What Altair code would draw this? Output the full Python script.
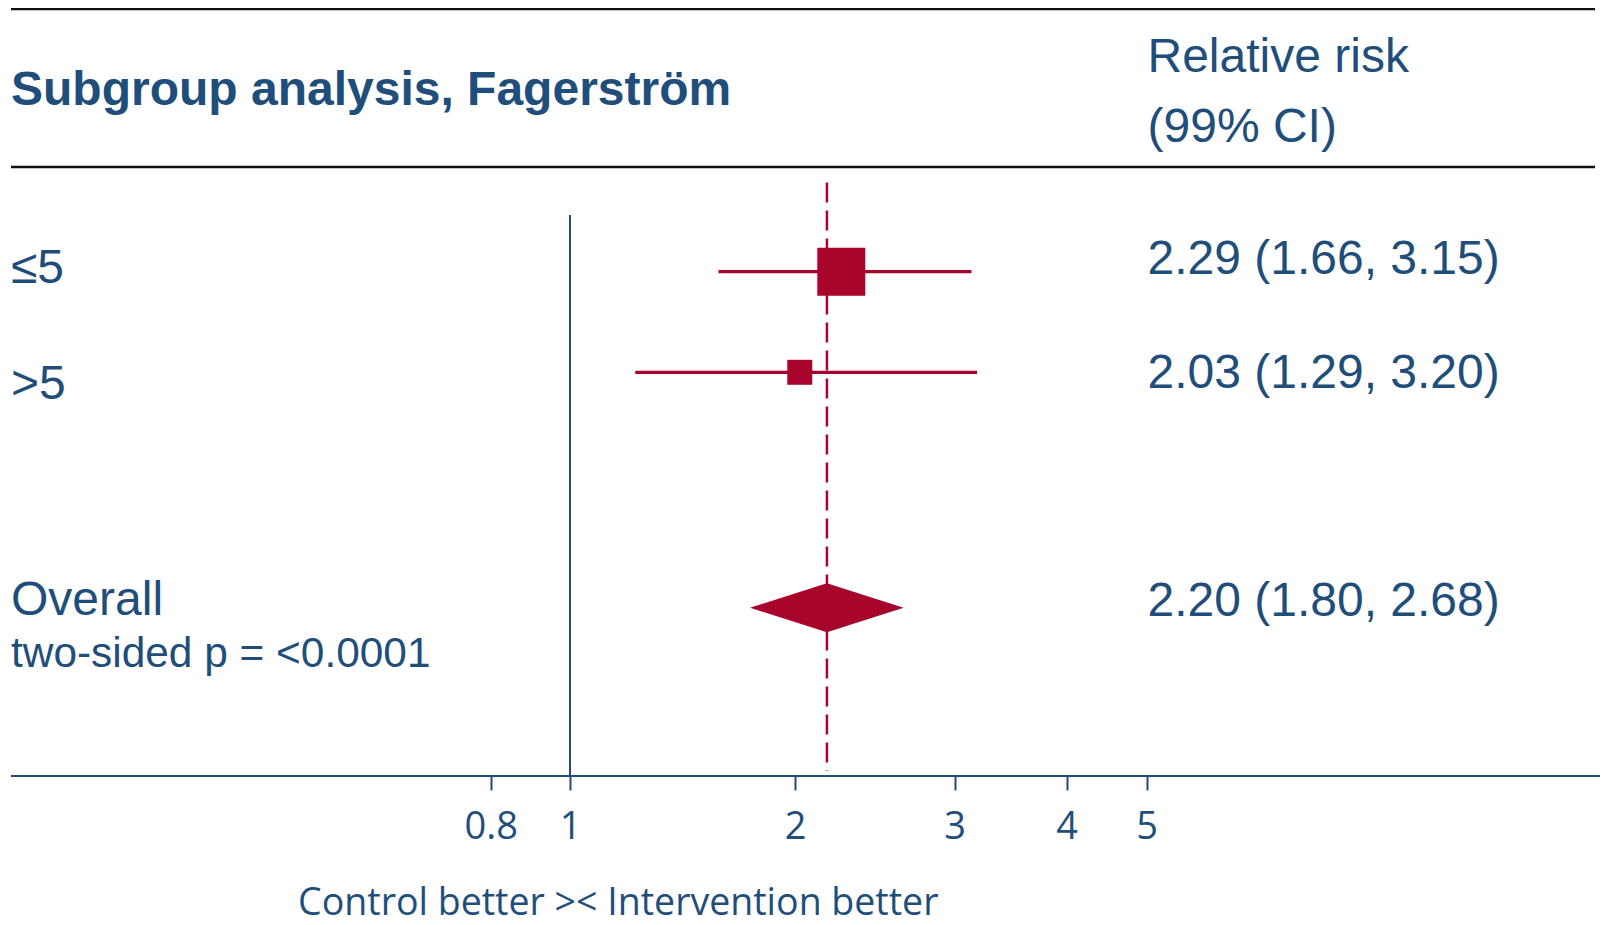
import altair as alt
import pandas as pd

# ---------------- data ----------------
subgroups = ["≤5", ">5"]
sub_est = [2.29, 2.03]
sub_lo = [1.66, 1.29]
sub_hi = [3.15, 3.20]

overall_label = "Overall"
overall_est = [2.20]
overall_lo = [1.80]
overall_hi = [2.68]
p_value_text = "<0.0001"
null_value = 1

tick_values = [0.8, 1, 2, 3, 4, 5]

title_text = "Subgroup analysis, Fagerström"
header_lines = ["Relative risk", "(99% CI)"]
axis_title = "Control better >< Intervention better"

# ---------------- style / layout ----------------
BLUE = "#1F4E7A"
RED = "#A8052D"
TXT = "Liberation Sans"
AX = "Open Sans"

W, H = 1592, 768
X_RANGE = [482.7, 562, 787, 946.7, 1058.7, 1138.7]
ROW_MARK = [263.7, 364.3, 599.7]
ROW_LABEL = [274.8, 390.7, 607.2]
ROW_VALUE = [265.6, 380.4, 608.2]

table = pd.DataFrame({
    "label": subgroups + [overall_label],
    "est": sub_est + overall_est,
    "lo": sub_lo + overall_lo,
    "hi": sub_hi + overall_hi,
})
table["row"] = list(range(1, len(table) + 1))
table["kind"] = ["sub"] * len(subgroups) + ["overall"]

x_scale = alt.Scale(type="linear", domain=tick_values, range=X_RANGE, nice=False, zero=False)
x_axis = alt.Axis(
    values=tick_values, labelExpr="datum.value + ''", grid=False, domain=False,
    tickColor=BLUE, tickWidth=2, tickSize=14,
    labelFont=AX, labelFontSize=38, labelColor=BLUE, labelPadding=18,
    labelFlush=False, labelOverlap=False,
    title=axis_title, titleFont=AX, titleFontSize=37.5, titleColor=BLUE,
    titleFontWeight="normal", titleX=609.8, titleY=138, titleAlign="center",
    titleBaseline="alphabetic",
)


def X(field):
    return alt.X(field, type="quantitative", scale=x_scale, axis=x_axis)


def Yrow(rng):
    return alt.Y("row:Q", scale=alt.Scale(domain=[1, 2, 3], range=rng, nice=False, zero=False), axis=None)


base = alt.Chart(table)
one = alt.Data(values=[{}])

top_rule = alt.Chart(one).mark_rule(color="#111111", strokeWidth=2.5).encode(
    x=alt.value(3), x2=alt.value(1587), y=alt.value(1))
mid_rule = alt.Chart(one).mark_rule(color="#111111", strokeWidth=2.5).encode(
    x=alt.value(3), x2=alt.value(1587), y=alt.value(159))
axis_rule = alt.Chart(one).mark_rule(color=BLUE, strokeWidth=2).encode(
    x=alt.value(3), x2=alt.value(W), y=alt.value(H))

title = alt.Chart(pd.DataFrame({"t": [title_text]})).mark_text(
    font=TXT, fontSize=48, fontWeight="bold", color=BLUE, align="left", baseline="alphabetic"
).encode(text="t:N", x=alt.value(3), y=alt.value(96.5))

header = alt.Chart(one).mark_text(
    text=header_lines, font=TXT, fontSize=48, color=BLUE, align="left",
    baseline="alphabetic", lineHeight=70.7
).encode(x=alt.value(1139.5), y=alt.value(63.8))

null_line = alt.Chart(one).mark_rule(color=BLUE, strokeWidth=2).encode(
    x=alt.XDatum(null_value, type="quantitative", scale=x_scale, axis=x_axis),
    y=alt.value(207), y2=alt.value(768))

dash = base.transform_filter("datum.kind == 'overall'").mark_rule(
    color=RED, strokeWidth=2.5, strokeDash=[20, 8]
).encode(x=X("est"), y=alt.value(174.5), y2=alt.value(763))

ci = base.transform_filter("datum.kind == 'sub'").mark_rule(color=RED, strokeWidth=3.3).encode(
    x=X("lo"), x2="hi:Q", y=Yrow(ROW_MARK))

squares = base.transform_filter("datum.kind == 'sub'").mark_square(
    color=RED, filled=True, opacity=1, strokeWidth=0
).encode(
    x=X("est"), y=Yrow(ROW_MARK),
    size=alt.Size("row:Q", scale=alt.Scale(domain=[1, 2], range=[2304, 625]), legend=None))

diamond = base.transform_filter("datum.kind == 'overall'").transform_fold(
    ["lo", "est", "hi"], as_=["part", "xval"]
).transform_calculate(
    top="datum.part == 'est' ? -1 : 0", bot="datum.part == 'est' ? 1 : 0"
).mark_area(color=RED, opacity=1, interpolate="linear").encode(
    x=X("xval"),
    y=alt.Y("top:Q", scale=alt.Scale(domain=[-1, 1], range=[575.2, 624.2], nice=False, zero=False), axis=None),
    y2="bot:Q")

labels = base.mark_text(font=TXT, fontSize=48, color=BLUE, align="left", baseline="alphabetic").encode(
    text="label:N", x=alt.value(3), y=Yrow(ROW_LABEL))

pval = alt.Chart(pd.DataFrame({"p": [p_value_text]})).transform_calculate(
    t="'two-sided p = ' + datum.p"
).mark_text(font=TXT, fontSize=42.4, color=BLUE, align="left", baseline="alphabetic").encode(
    text="t:N", x=alt.value(3), y=alt.value(658.6))

values = base.transform_calculate(
    t="format(datum.est, '.2f') + ' (' + format(datum.lo, '.2f') + ', ' + format(datum.hi, '.2f') + ')'"
).mark_text(font=TXT, fontSize=48, color=BLUE, align="left", baseline="alphabetic").encode(
    text="t:N", x=alt.value(1139.5), y=Yrow(ROW_VALUE))

chart = alt.layer(
    top_rule, mid_rule, axis_rule, title, header, null_line, dash, ci, squares, diamond,
    labels, pval, values
).resolve_scale(y="independent").properties(
    width=W, height=H,
    autosize=alt.AutoSizeParams(type="none"),
    padding={"left": 0, "right": 0, "top": 0, "bottom": 148},
).configure_view(stroke=None)

chart.save("out.html", embed_options={"renderer": "svg", "actions": False})
